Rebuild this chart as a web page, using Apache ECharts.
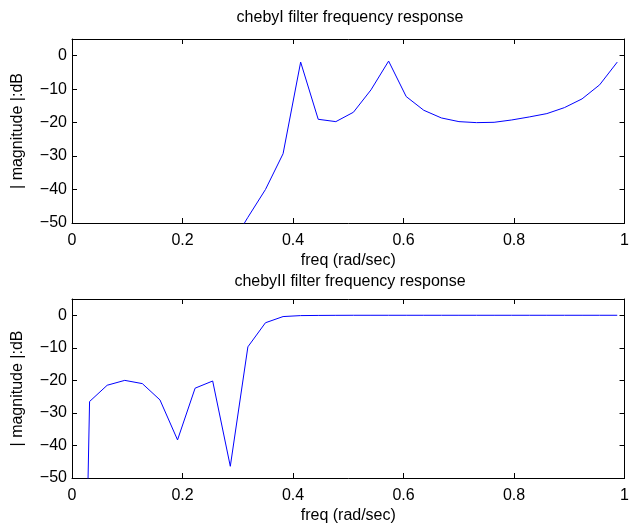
<!DOCTYPE html>
<html>
<head>
<meta charset="utf-8">
<script src="https://cdn.jsdelivr.net/npm/echarts@6/dist/echarts.min.js"></script>
<style>html,body{margin:0;padding:0;background:#fff}#c{width:632px;height:525px}</style>
</head>
<body>
<div id="c"></div>
<script>
// frequency (normalised), shared by both panels
var freq = [0, 0.0318, 0.0637, 0.0955, 0.1273, 0.1592, 0.1910, 0.2228, 0.2546, 0.2865,
  0.3183, 0.3501, 0.3820, 0.4138, 0.4456, 0.4775, 0.5093, 0.5411, 0.5730, 0.6048,
  0.6366, 0.6685, 0.7003, 0.7321, 0.7639, 0.7958, 0.8276, 0.8594, 0.8913, 0.9231,
  0.9549, 0.9868];
// chebyI magnitude (dB)
var cheby1 = [-300, -160, -130, -112, -98, -87, -78, -70, -63, -57,
  -48.3, -40.0, -29.3, -1.9, -19.0, -19.7, -16.9, -10.2, -1.6, -12.2,
  -16.3, -18.6, -19.7, -20.0, -19.9, -19.2, -18.3, -17.3, -15.5, -12.9,
  -8.7, -1.9];
// chebyII magnitude (dB)
var cheby2 = [-300, -26.5, -21.5, -20.0, -21.0, -26.0, -38.3, -22.4, -20.2, -46.4,
  -9.7, -2.3, -0.4, -0.1, -0.05, -0.02, 0, 0, 0, 0,
  0, 0, 0, 0, 0, 0, 0, 0, 0, 0,
  0, 0];
var titles = ['chebyI filter frequency response', 'chebyII filter frequency response'];
var xLabel = 'freq (rad/sec)';
var yLabel = '| magnitude |:dB';
var xTicks = [0, 0.2, 0.4, 0.6, 0.8, 1];
var yTicks = [-50, -40, -30, -20, -10, 0];

var FONT = 'Liberation Sans';
var FS = 16;
function pairs(xs, ys) { return xs.map(function (x, i) { return [x, ys[i]]; }); }
var grids = [
  { left: 72, top: 39, width: 557, height: 184 },
  { left: 72, top: 299, width: 557, height: 181 }
];
var xAxes = [], yAxes = [];
grids.forEach(function (g, gi) {
  var common = { gridIndex: gi, type: 'value', min: 0, max: 1, interval: 0.2,
    axisLine: { show: true, onZero: false, lineStyle: { color: '#000', width: 1 } },
    axisTick: { show: true, inside: true, length: 5, lineStyle: { color: '#000' } },
    splitLine: { show: false } };
  xAxes.push(Object.assign({}, common, { position: 'bottom',
    axisLabel: { show: true, color: '#000', fontFamily: FONT, fontSize: FS, margin: 10,
      formatter: function (v) { return xTicks.indexOf(Math.round(v * 10) / 10) >= 0 ? String(Math.round(v * 10) / 10) : ''; } },
    name: xLabel, nameLocation: 'middle', nameGap: 30,
    nameTextStyle: { color: '#000', fontFamily: FONT, fontSize: FS } }));
  xAxes.push(Object.assign({}, common, { position: 'top', axisLabel: { show: false } }));
  var ycommon = { gridIndex: gi, type: 'value', min: -50, max: 5, interval: 10,
    axisLine: { show: true, onZero: false, lineStyle: { color: '#000', width: 1 } },
    axisTick: { show: true, inside: true, length: 5, lineStyle: { color: '#000' } },
    splitLine: { show: false } };
  yAxes.push(Object.assign({}, ycommon, { position: 'left',
    axisLabel: { show: true, color: '#000', fontFamily: FONT, fontSize: FS, margin: 5,
      formatter: function (v) { if (yTicks.indexOf(v) < 0) return ''; return v < 0 ? '\u2212' + (-v) : String(v); } },
    name: yLabel, nameLocation: 'middle', nameGap: 46, nameRotate: 90,
    nameTextStyle: { color: '#000', fontFamily: FONT, fontSize: FS } }));
  yAxes.push(Object.assign({}, ycommon, { position: 'right', axisLabel: { show: false } }));
});
var option = {
  animation: false,
  backgroundColor: '#fff',
  title: [
    { text: titles[0], left: 350, textAlign: 'center', top: 10, padding: 0, textStyle: { color: '#000', fontFamily: FONT, fontSize: FS, fontWeight: 'normal' } },
    { text: titles[1], left: 350, textAlign: 'center', top: 274, padding: 0, textStyle: { color: '#000', fontFamily: FONT, fontSize: FS, fontWeight: 'normal' } }
  ],
  grid: grids,
  xAxis: xAxes,
  yAxis: yAxes,
  series: [
    { type: 'line', xAxisIndex: 0, yAxisIndex: 0, data: pairs(freq, cheby1), showSymbol: false, clip: true,
      lineStyle: { color: '#0000ff', width: 1 }, itemStyle: { color: '#0000ff' } },
    { type: 'line', xAxisIndex: 2, yAxisIndex: 2, data: pairs(freq, cheby2), showSymbol: false, clip: true,
      lineStyle: { color: '#0000ff', width: 1 }, itemStyle: { color: '#0000ff' } }
  ]
};
echarts.init(document.getElementById('c'), null, { renderer: 'canvas' }).setOption(option);
</script>
</body>
</html>
